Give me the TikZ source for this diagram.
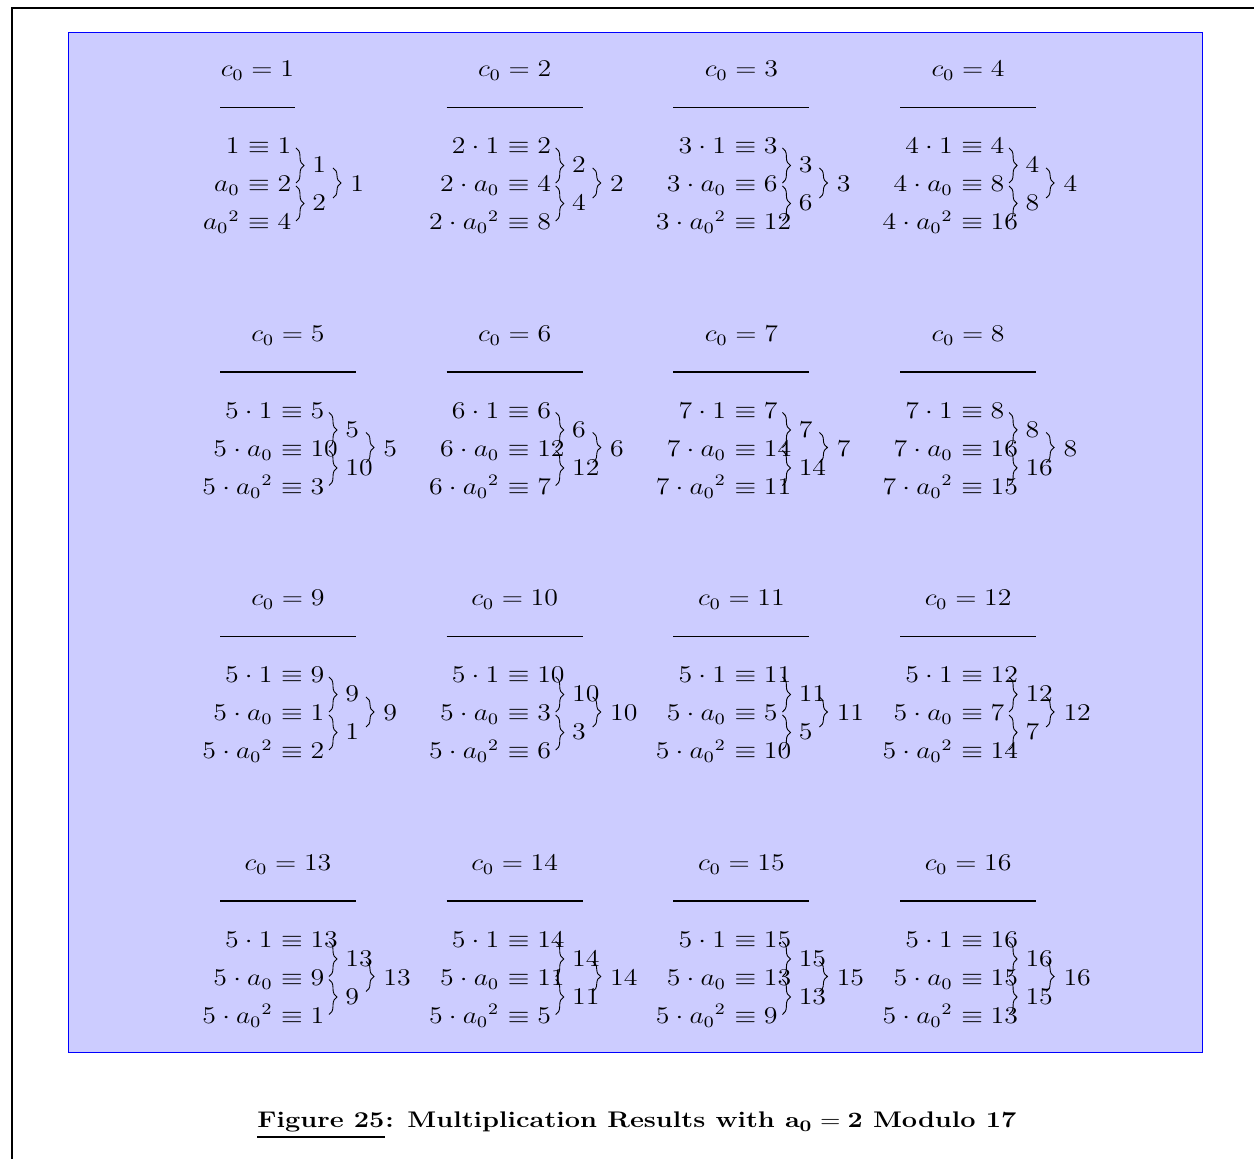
\documentclass[tikz,border=0pt]{standalone}
\usepackage{amsmath}
\usetikzlibrary{decorations.pathreplacing, calc}
\definecolor{cBox}{RGB}{204,204,255}
\tikzset{
    eqline/.style ={inner sep=0pt, font=\fontsize{11.6}{14}\selectfont, xscale=1.16},
    eqlhs/.style  ={eqline, anchor=base east},
    eqrhs/.style  ={eqline, anchor=base west},
    eqtitle/.style={eqline, anchor=base},
    brlabel/.style={eqline, anchor=west},
    brc/.style    ={decorate, decoration={brace, amplitude=4pt}, line width=0.45pt},
    hrule/.style  ={line width=0.55pt},
    captxt/.style ={inner sep=0pt, anchor=base west, font=\fontsize{11.3}{13}\selectfont\bfseries, xscale=1.2},
}

\begin{document}
\begin{tikzpicture}[x=0.5pt, y=-0.5pt]
    \useasboundingbox (0,0) rectangle (1254,1159);
    % page frame
    \draw[line width=1.4pt] (12,1165) -- (12,8) -- (1260,8);
    % blue panel
    \draw[blue, fill=cBox, line width=0.5pt] (68,33) rectangle (1202,1053);

    % the sixteen cells
    \foreach \n/\pre/\vb/\vc in {1//2/4, 2/2\cdot/4/8, 3/3\cdot/6/12, 4/4\cdot/8/16,
        5/5\cdot/10/3, 6/6\cdot/12/7, 7/7\cdot/14/11, 8/7\cdot/16/15,
        9/5\cdot/1/2, 10/5\cdot/3/6, 11/5\cdot/5/10, 12/5\cdot/7/14,
        13/5\cdot/9/1, 14/5\cdot/11/5, 15/5\cdot/13/9, 16/5\cdot/15/13} {
        \pgfmathtruncatemacro\col{mod(\n-1,4)}
        \pgfmathtruncatemacro\row{(\n-1)/4}
        \pgfmathsetmacro\L{205+226.7*\col}
        \pgfmathsetmacro\T{264.5*\row}
        \ifnum\n=1 \def\sw{35}\def\rw{75}\else\def\sw{68}\def\rw{136}\fi
        \pgfmathsetmacro\S{\L+\sw}
        \pgfmathsetmacro\B{\S+56}
        % title and rule
        \node[eqtitle] (t\n) at ({\L+15+\rw/2},{77+\T}) {$c_0 = \n$};
        \draw[hrule] ({\L+15},{107.5+\T}) -- ({\L+15+\rw},{107.5+\T});
        % the three congruences
        \node[eqlhs] (l\n-1) at (\S,{154+\T}) {$\pre 1$};
        \node[eqrhs] (r\n-1) at (\S,{154+\T}) {${}\equiv \n$};
        \node[eqlhs] (l\n-2) at (\S,{192+\T}) {$\pre a_0$};
        \node[eqrhs] (r\n-2) at (\S,{192+\T}) {${}\equiv \vb$};
        \node[eqlhs] (l\n-3) at (\S,{230+\T}) {$\pre {a_0}^2$};
        \node[eqrhs] (r\n-3) at (\S,{230+\T}) {${}\equiv \vc$};
        % inner braces
        \coordinate (u\n-1) at (\B,{148+\T});
        \coordinate (u\n-2) at (\B,{183+\T});
        \coordinate (u\n-3) at (\B,{186+\T});
        \coordinate (u\n-4) at (\B,{221+\T});
        \draw[brc] (u\n-1) -- (u\n-2);
        \draw[brc] (u\n-3) -- (u\n-4);
        \node[brlabel] (p\n-1) at ({\B+16},{165+\T}) {$\n$};
        \node[brlabel] (p\n-2) at ({\B+16},{203+\T}) {$\vb$};
        % outer brace
        \coordinate (w\n-1) at ({\B+37},{168+\T});
        \coordinate (w\n-2) at ({\B+37},{198+\T});
        \draw[brc] (w\n-1) -- (w\n-2);
        \node[brlabel] (o\n) at ({\B+54},{184+\T}) {$\n$};
    }

    % caption
    \node[captxt] (figlbl) at (257,1128) {Figure 25};
    \node[captxt] (figcap) at (figlbl.base east) {: Multiplication Results with $\mathbf{a_0 = 2}$ Modulo 17};
    \draw[line width=1.4pt] ($(figlbl.base west)+(0,9)$) -- ($(figlbl.base east)+(0,9)$);
\end{tikzpicture}
\end{document}
